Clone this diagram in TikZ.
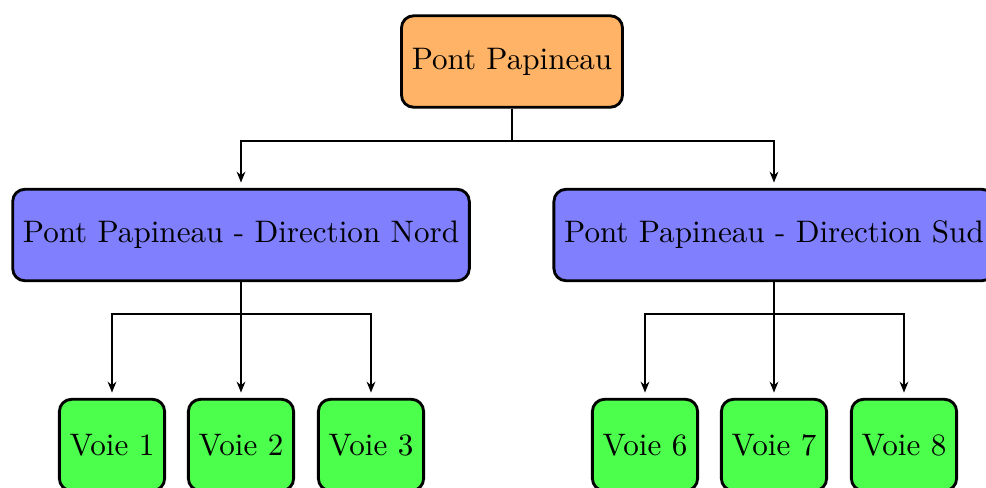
\documentclass[tikz,border=0pt]{standalone}
\usetikzlibrary{arrows.meta}
\definecolor{rootc}{HTML}{FFB366}
\definecolor{midc}{HTML}{8080FF}
\definecolor{leafc}{HTML}{4DFF4D}
\begin{document}
\begin{tikzpicture}[x=0.3215pt,y=-0.3215pt,
  box/.style={draw=black,line width=0.92pt,rounded corners=3.9pt,minimum height=29.4pt,inner xsep=3.3pt},
  rootbox/.style={box,fill=rootc},
  midbox/.style={box,fill=midc},
  leafbox/.style={box,fill=leafc},
  conn/.style={line width=0.64pt,-{Stealth[length=3.5pt,width=2.8pt]},shorten >=1.7pt}]
\useasboundingbox (0,0) rectangle (986,487);
\clip (0,0) rectangle (986,487);
\node[rootbox] (root) at (512,61.5) {Pont Papineau};
\node[midbox] (nord) at (241,235) {Pont Papineau - Direction Nord};
\node[midbox] (sud) at (774,235) {Pont Papineau - Direction Sud};
\node[leafbox] (v1) at (112,445) {Voie 1};
\node[leafbox] (v2) at (241,445) {Voie 2};
\node[leafbox] (v3) at (371,445) {Voie 3};
\node[leafbox] (v6) at (645,445) {Voie 6};
\node[leafbox] (v7) at (774,445) {Voie 7};
\node[leafbox] (v8) at (904,445) {Voie 8};
\draw[conn] (root.south) -- ++(0,32) -| (nord.north);
\draw[conn] (root.south) -- ++(0,32) -| (sud.north);
\draw[conn] (nord.south) -- ++(0,32) -| (v1.north);
\draw[conn] (nord.south) -- (v2.north);
\draw[conn] (nord.south) -- ++(0,32) -| (v3.north);
\draw[conn] (sud.south) -- ++(0,32) -| (v6.north);
\draw[conn] (sud.south) -- (v7.north);
\draw[conn] (sud.south) -- ++(0,32) -| (v8.north);
\end{tikzpicture}
\end{document}
